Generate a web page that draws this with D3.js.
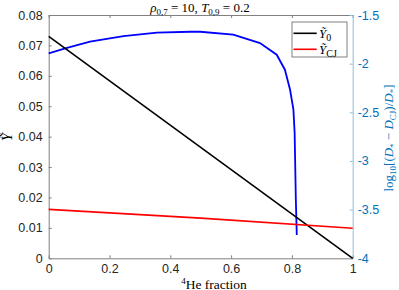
<!DOCTYPE html>
<html>
<head>
<meta charset="utf-8">
<script src="https://cdn.jsdelivr.net/npm/d3@7"></script>
<style>
	body { margin: 0; background: #fff; }
	svg { display: block; }
	.tick text { font-family: 'Liberation Sans', Arial, sans-serif; font-size: 12.5px; }
	.serif { font-family: 'Liberation Serif', 'Times New Roman', serif; }
</style>
</head>
<body>
<div id="chart"></div>
<script>
// data
const heFracLine = [0, 1];
const y0Values = [0.073, 0];
const heFracCJ = [0, 0.5, 1];
const yCJValues = [0.0161, 0.0132, 0.0099];
const heFracD = [0, 0.054, 0.136, 0.246, 0.356, 0.465, 0.498, 0.607, 0.695, 0.75, 0.777, 0.794, 0.805, 0.809, 0.813, 0.816];
const logDValues = [-1.894, -1.842, -1.774, -1.716, -1.682, -1.672, -1.672, -1.702, -1.788, -1.908, -2.062, -2.268, -2.473, -2.71, -3.40, -3.76];
const xTicks = [0, 0.2, 0.4, 0.6, 0.8, 1];
const yTicks = [0, 0.01, 0.02, 0.03, 0.04, 0.05, 0.06, 0.07, 0.08];
const y2Ticks = [-4, -3.5, -3, -2.5, -2, -1.5];

const width = 399;
const height = 290;
const marginLeft = 48.7;
const marginRight = 46.3;
const marginTop = 15;
const marginBottom = 31.7;
const innerW = width - marginLeft - marginRight;
const innerH = height - marginTop - marginBottom;

const axisGray = '#808080';
const rightBlue = '#0072BD';

const scaleX = d3.scaleLinear().domain([0, 1]).range([0, innerW]);
const scaleY = d3.scaleLinear().domain([0, 0.08]).range([innerH, 0]);
const scaleY2 = d3.scaleLinear().domain([-4, -1.5]).range([innerH, 0]);

const $svg = d3.select('#chart').append('svg')
	.attr('width', width)
	.attr('height', height);

const $g = $svg.append('g')
	.attr('transform', `translate(${marginLeft},${marginTop})`);

// axes (ticks pointing inward like matlab)
const fmt = d => d === 0 ? '0' : String(d);

const $xAxis = $g.append('g')
	.attr('transform', `translate(0,${innerH})`)
	.call(d3.axisBottom(scaleX).tickValues(xTicks).tickFormat(fmt).tickSizeInner(-3).tickSizeOuter(0).tickPadding(6));
const $xTop = $g.append('g')
	.call(d3.axisTop(scaleX).tickValues(xTicks).tickFormat('').tickSizeInner(-3).tickSizeOuter(0));
const $yAxis = $g.append('g')
	.call(d3.axisLeft(scaleY).tickValues(yTicks).tickFormat(fmt).tickSizeInner(-3).tickSizeOuter(0).tickPadding(6));
const $y2Axis = $g.append('g')
	.attr('transform', `translate(${innerW},0)`)
	.call(d3.axisRight(scaleY2).tickValues(y2Ticks).tickFormat(d => String(d)).tickSizeInner(-3).tickSizeOuter(0).tickPadding(5));

[$xAxis, $xTop, $yAxis].forEach($a => {
	$a.select('.domain').attr('stroke', axisGray);
	$a.selectAll('.tick line').attr('stroke', axisGray);
	$a.selectAll('.tick text').attr('fill', '#262626');
});
$y2Axis.select('.domain').attr('stroke', '#8cbde0');
$y2Axis.selectAll('.tick line').attr('stroke', '#8cbde0');
$y2Axis.selectAll('.tick text').attr('fill', rightBlue);

// lines
const lineLeft = d3.line().x(d => scaleX(d[0])).y(d => scaleY(d[1]));
const lineRight = d3.line().x(d => scaleX(d[0])).y(d => scaleY2(d[1]));

$g.append('path')
	.datum(heFracD.map((x, i) => [x, logDValues[i]]))
	.attr('d', lineRight)
	.attr('fill', 'none')
	.attr('stroke', '#0000ff')
	.attr('stroke-width', 1.8);

$g.append('path')
	.datum(heFracLine.map((x, i) => [x, y0Values[i]]))
	.attr('d', lineLeft)
	.attr('fill', 'none')
	.attr('stroke', '#000')
	.attr('stroke-width', 1.6);

$g.append('path')
	.datum(heFracCJ.map((x, i) => [x, yCJValues[i]]))
	.attr('d', lineLeft)
	.attr('fill', 'none')
	.attr('stroke', '#ff0000')
	.attr('stroke-width', 1.6);

// legend
const $legend = $svg.append('g').attr('transform', 'translate(292,22)');
$legend.append('rect')
	.attr('width', 55)
	.attr('height', 35)
	.attr('fill', '#fff')
	.attr('stroke', axisGray)
	.attr('stroke-width', 1);
const legendItems = [
	{ color: '#000', sub: '0' },
	{ color: '#ff0000', sub: 'CJ' }
];
legendItems.forEach((item, i) => {
	const y = 11.3 + i * 16;
	$legend.append('line')
		.attr('x1', 1.5).attr('x2', 24.7)
		.attr('y1', y).attr('y2', y)
		.attr('stroke', item.color)
		.attr('stroke-width', 1.6);
	const $t = $legend.append('text')
		.attr('class', 'serif')
		.attr('x', 27)
		.attr('y', y + 4.5)
		.attr('font-size', 13)
		.attr('fill', '#000');
	$t.append('tspan').attr('font-style', 'italic').text('Ỹ');
	$t.append('tspan').attr('font-size', 10).attr('dy', 3).text(item.sub);
});

// title
const $title = $svg.append('text')
	.attr('class', 'serif')
	.attr('x', 200)
	.attr('y', 12)
	.attr('text-anchor', 'middle')
	.attr('font-size', 13)
	.attr('fill', '#000');
$title.append('tspan').attr('font-style', 'italic').text('ρ');
$title.append('tspan').attr('font-size', 9).attr('dy', 2.5).text('0,7');
$title.append('tspan').attr('dy', -2.5).text(' = 10, ');
$title.append('tspan').attr('font-style', 'italic').text('T');
$title.append('tspan').attr('font-size', 9).attr('dy', 2.5).text('0,9');
$title.append('tspan').attr('dy', -2.5).text(' = 0.2');

// x label
const $xLabel = $svg.append('text')
	.attr('class', 'serif')
	.attr('x', 214)
	.attr('y', 288.5)
	.attr('text-anchor', 'middle')
	.attr('font-size', 13.5)
	.attr('fill', '#000');
$xLabel.append('tspan').attr('font-size', 9).attr('dy', -5).text('4');
$xLabel.append('tspan').attr('dy', 5).text('He fraction');

// left y label
$svg.append('text')
	.attr('class', 'serif')
	.attr('transform', 'translate(12,137) rotate(-90)')
	.attr('text-anchor', 'middle')
	.attr('font-size', 14)
	.attr('font-style', 'italic')
	.attr('fill', '#000')
	.text('Ỹ');

// right y label
const $y2Label = $svg.append('text')
	.attr('class', 'serif')
	.attr('transform', 'translate(393,138) rotate(-90)')
	.attr('text-anchor', 'middle')
	.attr('font-size', 13)
	.attr('fill', rightBlue);
$y2Label.append('tspan').text('log');
$y2Label.append('tspan').attr('font-size', 9).attr('dy', 3).text('10');
$y2Label.append('tspan').attr('dy', -3).text('[(');
$y2Label.append('tspan').attr('font-style', 'italic').text('D');
$y2Label.append('tspan').attr('font-size', 9).attr('dy', 3).text('*');
$y2Label.append('tspan').attr('dy', -3).text(' − ');
$y2Label.append('tspan').attr('font-style', 'italic').text('D');
$y2Label.append('tspan').attr('font-size', 9).attr('dy', 3).text('CJ');
$y2Label.append('tspan').attr('dy', -3).text(')/');
$y2Label.append('tspan').attr('font-style', 'italic').text('D');
$y2Label.append('tspan').attr('font-size', 9).attr('dy', 3).text('*');
$y2Label.append('tspan').attr('dy', -3).text(']');
</script>
</body>
</html>
